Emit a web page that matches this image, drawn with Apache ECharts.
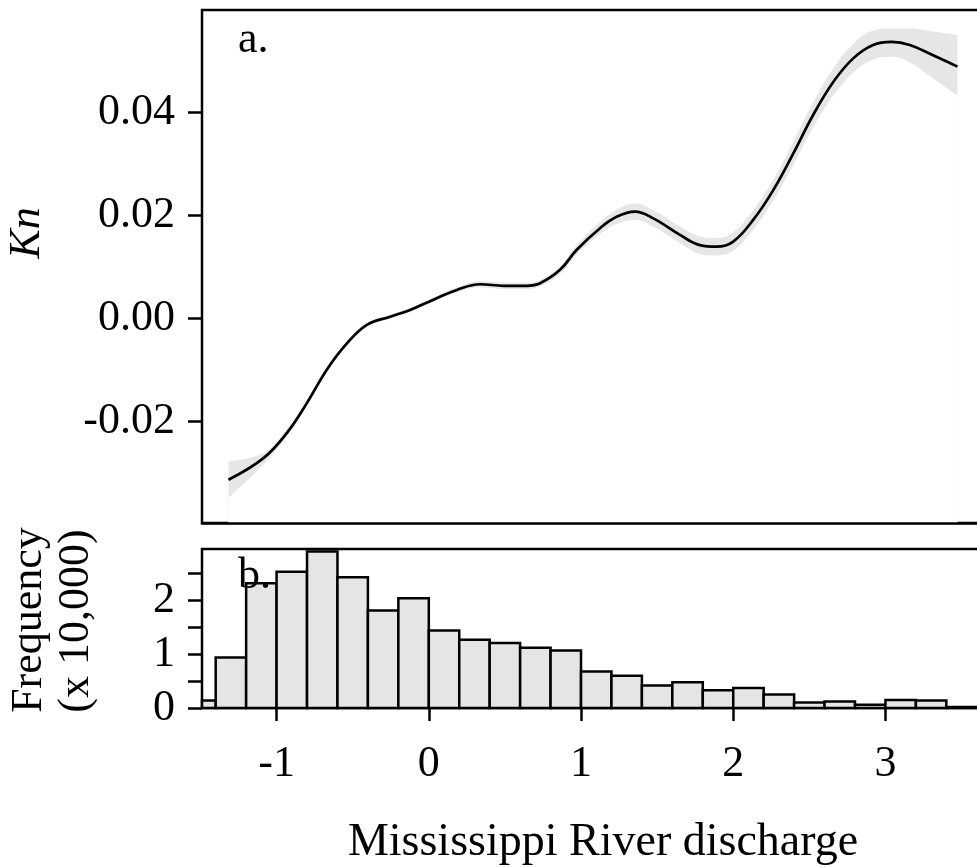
<!DOCTYPE html>
<html>
<head>
<meta charset="utf-8">
<script src="https://cdn.jsdelivr.net/npm/echarts@6/dist/echarts.min.js"></script>
<style>
html,body{margin:0;padding:0;background:#fff;}
#main{width:977px;height:867px;}
</style>
</head>
<body>
<div id="main"></div>
<script>
// ---- data ----
const discharge = [-1.316, -1.086, -0.932, -0.801, -0.670, -0.538, -0.407, -0.254, -0.123, 0.030,
  0.184, 0.337, 0.490, 0.643, 0.731, 0.862, 0.972, 1.125, 1.234, 1.355,
  1.475, 1.650, 1.781, 1.891, 2.000, 2.131, 2.263, 2.394, 2.525, 2.657,
  2.788, 2.919, 3.040, 3.160, 3.313, 3.473];
const kn = [-0.0314, -0.0272, -0.0223, -0.0165, -0.0100, -0.0049, -0.0013, 0.0003, 0.0016, 0.0036,
  0.0055, 0.0066, 0.0063, 0.0063, 0.0068, 0.0094, 0.0133, 0.0175, 0.0197, 0.0207,
  0.0194, 0.0162, 0.0142, 0.0139, 0.0149, 0.0191, 0.0249, 0.0320, 0.0395, 0.0459,
  0.0505, 0.0531, 0.0537, 0.0531, 0.0511, 0.0489];
const knLower = [-0.0349, -0.0284, -0.0229, -0.0170, -0.0104, -0.0053, -0.0017, -0.0001, 0.0012, 0.0032,
  0.0050, 0.0060, 0.0057, 0.0057, 0.0062, 0.0087, 0.0124, 0.0163, 0.0183, 0.0191,
  0.0178, 0.0146, 0.0125, 0.0122, 0.0131, 0.0172, 0.0229, 0.0298, 0.0371, 0.0433,
  0.0477, 0.0503, 0.0508, 0.0497, 0.0466, 0.0433];
const knUpper = [-0.0278, -0.0262, -0.0217, -0.0160, -0.0096, -0.0045, -0.0009, 0.0007, 0.0020, 0.0040,
  0.0060, 0.0072, 0.0069, 0.0069, 0.0074, 0.0101, 0.0142, 0.0187, 0.0211, 0.0223,
  0.0210, 0.0178, 0.0159, 0.0156, 0.0167, 0.0210, 0.0269, 0.0342, 0.0419, 0.0485,
  0.0533, 0.0559, 0.0563, 0.0563, 0.0557, 0.0550];

const binEdges = [-1.6, -1.4, -1.2, -1.0, -0.8, -0.6, -0.4, -0.2, 0.0, 0.2, 0.4, 0.6, 0.8, 1.0,
  1.2, 1.4, 1.6, 1.8, 2.0, 2.2, 2.4, 2.6, 2.8, 3.0, 3.2, 3.4, 3.6];
const frequency = [0.14, 0.94, 2.32, 2.53, 2.91, 2.43, 1.81, 2.04, 1.44, 1.27, 1.21, 1.12, 1.07,
  0.68, 0.60, 0.42, 0.48, 0.33, 0.37, 0.25, 0.10, 0.12, 0.06, 0.15, 0.14, 0.02];

const xTicks = [-1, 0, 1, 2, 3];
const knTicks = [-0.02, 0.00, 0.02, 0.04];
const freqTicks = [0, 0.5, 1, 1.5, 2, 2.5];
const freqLabels = [0, 1, 2];

// ---- chart ----
const FONT = '"Liberation Serif", "Times New Roman", serif';
const chart = echarts.init(document.getElementById('main'), null, {renderer: 'canvas'});

const lineData = discharge.map((x, i) => [x, kn[i]]);
const lowData = discharge.map((x, i) => [x, knLower[i]]);
const upData = discharge.map((x, i) => [x, knUpper[i]]);
const histData = frequency.map((f, i) => [binEdges[i], binEdges[i + 1], f]);

const xMin = -1.49, xMax = 3.7;
const SM = 0.4;

const option = {
  backgroundColor: '#fff',
  animation: false,
  grid: [
    {left: 202, top: 10, right: -15, height: 513, show: true, borderColor: '#000', borderWidth: 2.5,
     containLabel: false, outerBoundsMode: 'none'},
    {left: 202, top: 549, right: -15, height: 159, show: true, borderColor: '#000', borderWidth: 2.5,
     containLabel: false, outerBoundsMode: 'none'}
  ],
  xAxis: [
    {type: 'value', gridIndex: 0, min: xMin, max: xMax, z: 10,
     axisLine: {show: true, onZero: false, lineStyle: {color: '#000', width: 2.5}},
     axisTick: {show: false}, axisLabel: {show: false}, splitLine: {show: false}},
    {type: 'value', gridIndex: 1, min: xMin, max: xMax,
     axisLine: {show: false, onZero: false}, splitLine: {show: false},
     axisTick: {show: true, customValues: xTicks, length: 13, inside: false, lineStyle: {color: '#000', width: 2.5}},
     axisLabel: {show: true, customValues: xTicks, margin: 34, color: '#000', fontSize: 44, fontFamily: FONT,
       formatter: v => String(v)}}
  ],
  yAxis: [
    {type: 'value', gridIndex: 0, min: -0.0398, max: 0.0599,
     axisLine: {show: false, onZero: false}, splitLine: {show: false},
     axisTick: {show: true, customValues: knTicks, length: 14, lineStyle: {color: '#000', width: 2.5}},
     axisLabel: {show: true, customValues: knTicks, margin: 27, color: '#000', fontSize: 44, fontFamily: FONT,
       formatter: v => v.toFixed(2)}},
    {type: 'value', gridIndex: 1, min: 0, max: 2.955,
     axisLine: {show: false, onZero: false}, splitLine: {show: false},
     axisTick: {show: true, customValues: freqTicks, length: 14, lineStyle: {color: '#000', width: 2.5}},
     axisLabel: {show: true, customValues: freqLabels, margin: 27, color: '#000', fontSize: 44, fontFamily: FONT,
       formatter: v => String(v)}}
  ],
  series: [
    {type: 'line', xAxisIndex: 0, yAxisIndex: 0, data: upData, smooth: SM,
     symbol: 'none', lineStyle: {width: 0, opacity: 0}, areaStyle: {color: '#e6e6e6', opacity: 1, origin: 'start'},
     silent: true, z: 1},
    {type: 'line', xAxisIndex: 0, yAxisIndex: 0, data: lowData, smooth: SM,
     symbol: 'none', lineStyle: {width: 0, opacity: 0}, areaStyle: {color: '#ffffff', opacity: 1, origin: 'start'},
     silent: true, z: 2},
    {type: 'line', xAxisIndex: 0, yAxisIndex: 0, data: lineData, smooth: SM,
     symbol: 'none', lineStyle: {color: '#000', width: 2.7}, z: 3},
    {type: 'custom', xAxisIndex: 1, yAxisIndex: 1, data: histData,
     encode: {x: [0, 1], y: 2},
     renderItem: function (params, api) {
       const x0 = api.value(0), x1 = api.value(1), v = api.value(2);
       const p0 = api.coord([x0, v]);
       const p1 = api.coord([x1, 0]);
       const cs = params.coordSys;
       const rect = echarts.graphic.clipRectByRect(
         {x: p0[0], y: p0[1], width: p1[0] - p0[0], height: p1[1] - p0[1]},
         {x: cs.x, y: cs.y, width: cs.width, height: cs.height});
       return rect && {type: 'rect', shape: rect,
         style: {fill: '#e5e5e5', stroke: '#000', lineWidth: 2.5}};
     }, z: 2}
  ],
  graphic: [
    {type: 'text', left: 238, top: 18, z: 100,
     style: {text: 'a.', font: '44px ' + FONT, fill: '#000'}},
    {type: 'text', left: 238, top: 554, z: 100,
     style: {text: 'b.', font: '44px ' + FONT, fill: '#000'}},
    {type: 'text', x: 27, y: 233, rotation: Math.PI / 2, z: 100,
     style: {text: 'Kn', font: 'italic 44px ' + FONT, fill: '#000', align: 'center', verticalAlign: 'middle'}},
    {type: 'text', x: 29, y: 620, rotation: Math.PI / 2, z: 100,
     style: {text: 'Frequency', font: '44px ' + FONT, fill: '#000', align: 'center', verticalAlign: 'middle'}},
    {type: 'text', x: 76, y: 621, rotation: Math.PI / 2, z: 100,
     style: {text: '(x 10,000)', font: '44px ' + FONT, fill: '#000', align: 'center', verticalAlign: 'middle'}},
    {type: 'text', x: 603, y: 843, z: 100,
     style: {text: 'Mississippi River discharge', font: '46px ' + FONT, fill: '#000', align: 'center', verticalAlign: 'middle'}}
  ]
};
chart.setOption(option);
</script>
</body>
</html>
